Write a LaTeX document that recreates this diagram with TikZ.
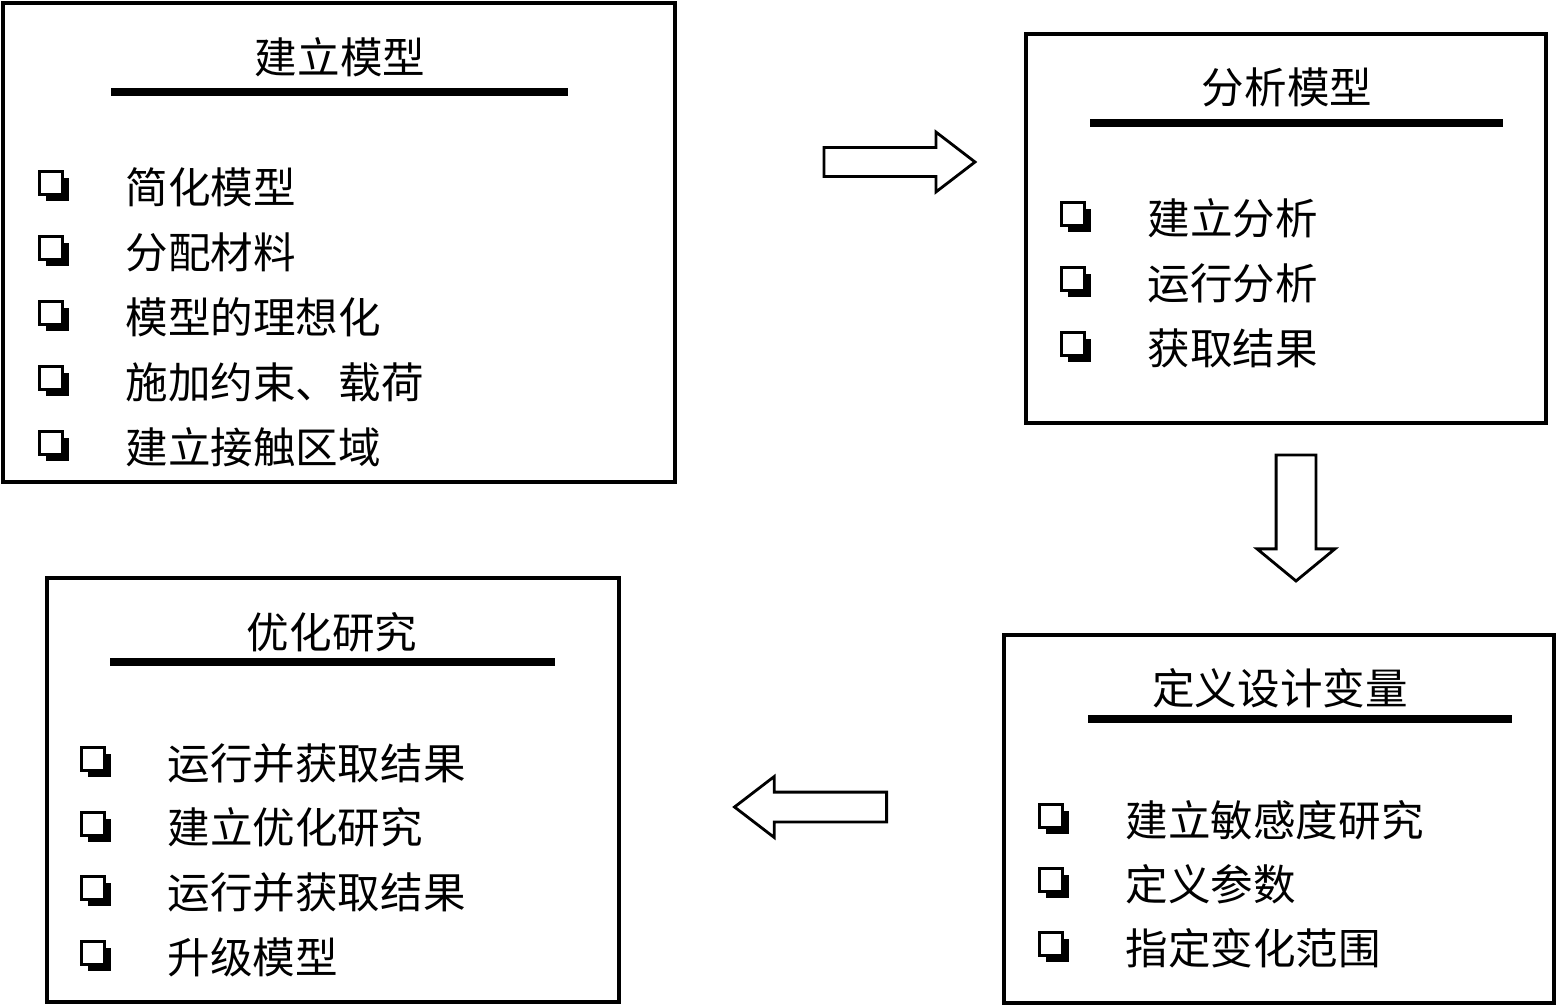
\documentclass[tikz,border=0pt]{standalone}
\usepackage{fontspec}
\setmainfont{Noto Sans CJK SC}
\usetikzlibrary{positioning, shapes.arrows, shadows}

\begin{document}
\begin{tikzpicture}[
  x=0.01cm, y=-0.01cm,
  panel/.style={draw, line width=1.1pt, inner sep=0pt},
  title/.style={inner sep=0pt, font=\fontsize{12.1pt}{14pt}\selectfont},
  item/.style={anchor=west, inner sep=0pt, font=\fontsize{12.1pt}{14pt}\selectfont},
  chk/.style={draw, fill=white, line width=0.85pt, minimum size=0.23cm, inner sep=0pt,
    drop shadow={shadow xshift=0.065cm, shadow yshift=-0.065cm, fill=black, opacity=1}},
  rule/.style={line width=2.3pt},
  bigarrow/.style={single arrow, draw, line width=0.8pt, anchor=tail}
]
\useasboundingbox (0,0) rectangle (1557,1006);

% the four panels
\node[panel, minimum width=6.72cm, minimum height=4.79cm] (build) at (339,242.5) {};
\node[panel, minimum width=5.19cm, minimum height=3.88cm] (analyse) at (1286,228.5) {};
\node[panel, minimum width=5.49cm, minimum height=3.67cm] (define) at (1279,819) {};
\node[panel, minimum width=5.71cm, minimum height=4.23cm] (optimise) at (333,790) {};

% titles and rules
\node[title] (build-title) at (340,57) {建立模型};
\node[title] (analyse-title) at (1287,87) {分析模型};
\node[title] (define-title) at (1280,688) {定义设计变量};
\node[title] (optimise-title) at (332,632) {优化研究};
\draw[rule] (111,92) -- (568,92);
\draw[rule] (1090,123) -- (1503,123);
\draw[rule] (1088,719) -- (1512,719);
\draw[rule] (110,662) -- (555,662);

% items
\foreach \t [count=\i] in {简化模型, 分配材料, 模型的理想化, 施加约束、载荷, 建立接触区域} {
  \node[item] (build-\i) at (125, {187+65*(\i-1)}) {\t};
  \node[chk] (build-\i-box) at (51, {183+65*(\i-1)}) {};
}
\foreach \t [count=\i] in {建立分析, 运行分析, 获取结果} {
  \node[item] (analyse-\i) at (1147, {218+65*(\i-1)}) {\t};
  \node[chk] (analyse-\i-box) at (1073, {214+65*(\i-1)}) {};
}
\foreach \t [count=\i] in {建立敏感度研究, 定义参数, 指定变化范围} {
  \node[item] (define-\i) at (1125, {820+64*(\i-1)}) {\t};
  \node[chk] (define-\i-box) at (1051, {816+64*(\i-1)}) {};
}
\foreach \t [count=\i] in {运行并获取结果, 建立优化研究, 运行并获取结果, 升级模型} {
  \node[item] (optimise-\i) at (167, {763+64.7*(\i-1)}) {\t};
  \node[chk] (optimise-\i-box) at (93, {759+64.7*(\i-1)}) {};
}

% block arrows between the panels
\node[bigarrow, inner sep=0.13cm, single arrow head extend=0.155cm,
  single arrow tip angle=75, minimum height=1.51cm] (to-analyse) at (822.5,162) {};
\node[bigarrow, inner sep=0.185cm, single arrow head extend=0.19cm,
  single arrow tip angle=101, minimum height=1.26cm, shape border rotate=270] (to-define) at (1296,453.5) {};
\node[bigarrow, inner sep=0.135cm, single arrow head extend=0.155cm,
  single arrow tip angle=75, minimum height=1.52cm, shape border rotate=180] (to-optimise) at (888,807) {};
\end{tikzpicture}
\end{document}
